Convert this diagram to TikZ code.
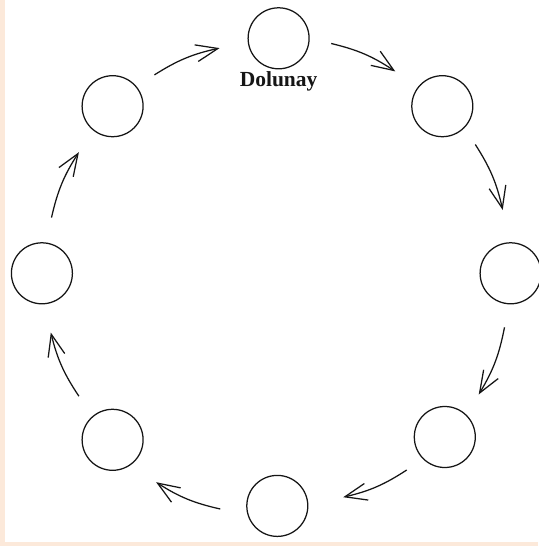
\documentclass[tikz,border=0pt]{standalone}
\usepackage{fontspec}
\setmainfont{Liberation Serif}
\usetikzlibrary{arrows.meta}
\definecolor{peach}{HTML}{FCE9DA}
\definecolor{ink}{HTML}{151515}
\begin{document}
\begin{tikzpicture}[x=1pt,y=1pt,
  phase/.style={circle,draw=ink,line width=1.25pt,minimum size=61pt,inner sep=0pt},
  cyc/.style={draw=ink,line width=1.25pt,-{Straight Barb[length=22pt,width=17pt]},bend left=10},
  lbl/.style={font=\bfseries\fontsize{21.5}{24}\selectfont,inner sep=0pt,text=ink}]
\fill[white] (0,0) rectangle (538,-546);
\fill[peach] (0,0) rectangle (5,-546);
\fill[peach] (0,-542) rectangle (538,-546);
\useasboundingbox (0,0) rectangle (538,-546);
% phases
\node[phase] (top) at (278.6,-38.3) {};
\node[phase] (ur)  at (442.3,-106.2) {};
\node[phase] (rt)  at (510.6,-273.3) {};
\node[phase] (lr)  at (444.8,-437) {};
\node[phase] (bot) at (277.3,-505.9) {};
\node[phase] (ll)  at (112.6,-439.8) {};
\node[phase] (lf)  at (41.9,-273.3) {};
\node[phase] (ul)  at (112.6,-106.2) {};
\node[lbl] (dol) at (278.6,-81.1) {Dolunay};
% arrow ends
\coordinate (a1s) at (331.2,-43.5);  \coordinate (a1e) at (395.3,-71.4);
\coordinate (a2s) at (475.3,-144.5); \coordinate (a2e) at (502.7,-210);
\coordinate (a3s) at (504.5,-327.3); \coordinate (a3e) at (478.7,-394.5);
\coordinate (a4s) at (406.7,-470);   \coordinate (a4e) at (343.2,-497.2);
\coordinate (a5s) at (220.3,-509);   \coordinate (a5e) at (156.1,-482.2);
\coordinate (a6s) at (78.9,-396.2);  \coordinate (a6e) at (50.8,-332.5);
\coordinate (a7s) at (51.5,-217.6);  \coordinate (a7e) at (78.9,-152.2);
\coordinate (a8s) at (154.4,-74.9);  \coordinate (a8e) at (219.6,-48.1);
\foreach \i in {1,...,8} \draw[cyc] (a\i s) to (a\i e);
\end{tikzpicture}
\end{document}
